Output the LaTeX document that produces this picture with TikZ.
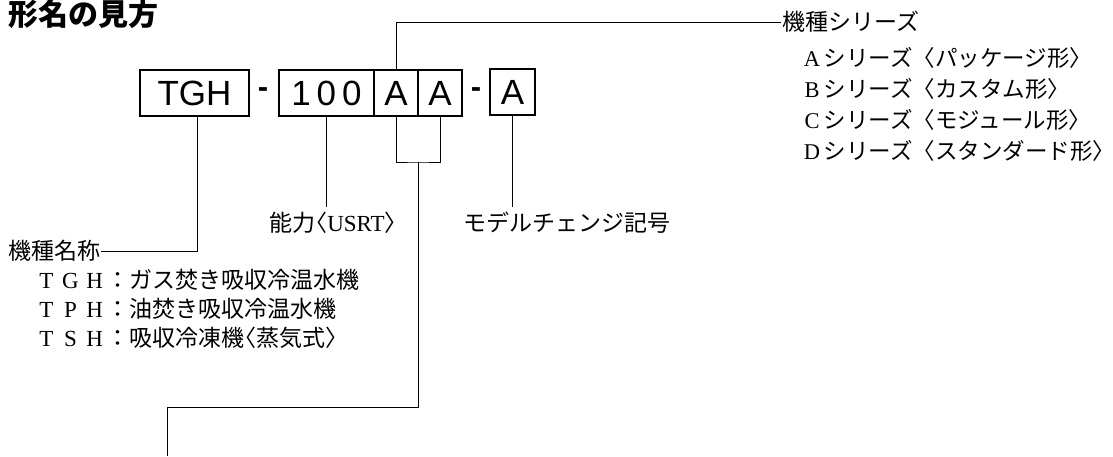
\documentclass[tikz,border=0pt]{standalone}
\usepackage{fontspec}
\setmainfont{Liberation Serif}
\newfontfamily\cjk{Noto Sans CJK JP}
\newfontfamily\cjkh[RawFeature=+halt]{Noto Sans CJK JP}
\newfontfamily\boxfont{Liberation Sans}
\newcommand{\fw}[1]{\makebox[1.05em]{\rmfamily #1}}
\newcommand{\hw}[1]{{\cjkh #1}}
\begin{document}
\begin{tikzpicture}[x=1pt,y=-1pt,
  codebox/.style={draw, line width=1.7pt, minimum height=46pt, inner sep=0pt,
    font=\boxfont\fontsize{35}{35}\selectfont},
  dashtxt/.style={inner sep=0pt, font=\boxfont\bfseries\fontsize{31}{31}\selectfont},
  lbl/.style={inner xsep=1pt, inner ysep=5pt, font=\cjk\fontsize{23}{23}\selectfont},
  slbl/.style={lbl, font=\cjk\fontsize{22.5}{22.5}\selectfont},
  conn/.style={line width=0.9pt},
  titletxt/.style={inner sep=0pt, font=\cjk\bfseries\fontsize{30}{30}\selectfont}]
\useasboundingbox (0,0) rectangle (1113,456);

\node[titletxt, anchor=west] (title) at (8,14) {形名の見方};

% code boxes
\node[codebox, minimum width=109pt] (tgh) at (194.5,93) {TGH};
\node[dashtxt] (d1) at (263,93) {-};
\node[codebox, minimum width=95pt] (n100) at (326.5,93) {1\,0\,0};
\node[codebox, minimum width=44pt] (a1) at (396,93) {A};
\node[codebox, minimum width=44pt] (a2) at (440,93) {A};
\node[dashtxt] (d2) at (476,93) {-};
\node[codebox, minimum width=45pt] (a3) at (512.5,92) {A};

% labels
\node[lbl, anchor=west] (series) at (781,22) {機種シリーズ};
\node[slbl, anchor=west] (sa) at (799,58) {\fw{A}シリーズ〈パッケージ形\hw{〉}};
\node[slbl, anchor=west] (sb) at (799,89) {\fw{B}シリーズ〈カスタム形\hw{〉}};
\node[slbl, anchor=west] (sc) at (799,120) {\fw{C}シリーズ〈モジュール形\hw{〉}};
\node[slbl, anchor=west] (sd) at (799,151) {\fw{D}シリーズ〈スタンダード形\hw{〉}};

\node[lbl, anchor=center] (cap) at (333,223) {能力\hw{〈}\textrm{USRT}\hw{〉}};
\node[lbl, anchor=west] (mc) at (462,223) {モデルチェンジ記号};

\node[lbl, anchor=west] (kname) at (7,251) {機種名称};
\node[lbl, anchor=west] (kt1) at (33,280) {\fw{T}\fw{G}\fw{H}：ガス焚き吸収冷温水機};
\node[lbl, anchor=west] (kt2) at (33,309) {\fw{T}\fw{P}\fw{H}：油焚き吸収冷温水機};
\node[lbl, anchor=west] (kt3) at (33,338) {\fw{T}\fw{S}\fw{H}：吸収冷凍機\hw{〈}蒸気式\hw{〉}};

% helper coordinates
\coordinate (aa) at (418,162);
\coordinate (low) at (167,407);
\coordinate (bot) at (167,456);

% connectors
\draw[conn] (a1.north) |- (series.west);
\draw[conn] ([xshift=2.5pt]tgh.south) |- (kname.east);
\draw[conn] (n100.south) -- (n100.south |- cap.north);
\draw[conn] (a1.south) |- (aa) -| (a2.south);
\draw[conn] (aa) |- (low) -- (bot);
\draw[conn] (a3.south) -- (a3.south |- mc.north);
\end{tikzpicture}
\end{document}
